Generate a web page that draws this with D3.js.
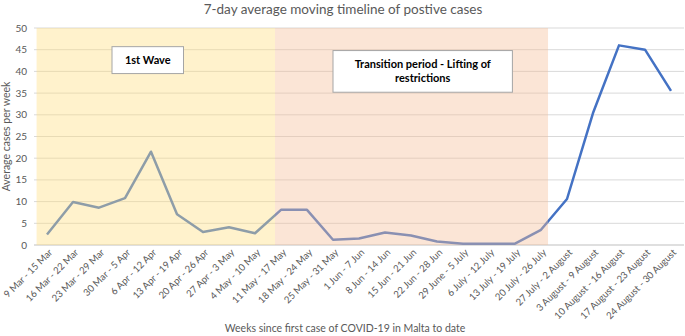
<!DOCTYPE html>
<html>
<head>
<meta charset="utf-8">
<script src="https://cdn.jsdelivr.net/npm/d3@7"></script>
<style>
  body { margin: 0; background: #fff; }
  svg text { font-family: Lato, "Open Sans", sans-serif; }
</style>
</head>
<body>
<div id="container"></div>
<script>
let w = 685;
let h = 336;
let margin = { top: 28, right: 1, bottom: 91, left: 34 };

// weeks on the x axis
let weeks = [
  "9 Mar - 15 Mar", "16 Mar - 22 Mar", "23 Mar - 29 Mar", "30 Mar - 5 Apr",
  "6 Apr - 12 Apr", "13 Apr - 19 Apr", "20 Apr - 26 Apr", "27 Apr - 3 May",
  "4 May - 10 May", "11 May - 17 May", "18 May - 24 May", "25 May - 31 May",
  "1 Jun - 7 Jun", "8 Jun - 14 Jun", "15 Jun - 21 Jun", "22 Jun - 28 Jun",
  "29 June - 5 July", "6 July - 12 July", "13 July - 19 July", "20 July - 26 July",
  "27 July - 2 August", "3 August - 9 August", "10 August - 16 August",
  "17 August - 23 August", "24 August - 30 August"
];

// 7-day average cases per week
let avgCases = [
  2.4, 9.9, 8.6, 10.8, 21.5, 7.1, 3.0, 4.1, 2.7, 8.1, 8.1, 1.2, 1.5,
  2.9, 2.2, 0.8, 0.3, 0.3, 0.3, 3.5, 10.6, 30.4, 46.0, 45.0, 35.5
];

let yTicks = [0, 5, 10, 15, 20, 25, 30, 35, 40, 45, 50];

// shaded periods, in week index units (start, end)
let periodNames = ["1st Wave", "Transition period - Lifting of restrictions"];
let periodStart = [-0.4, 8.77];
let periodEnd = [8.77, 19.27];
let periodColors = ["#FFDE80", "#F5BE98"];

let svg = d3.select("#container")
  .append("svg")
  .attr("width", w)
  .attr("height", h)
  .style("background-color", "#fff");

let xScale = d3.scaleBand()
  .domain(weeks)
  .range([margin.left, w - margin.right]);

let xPos = d => xScale(d) + xScale.bandwidth() / 2;
let xIdx = i => xScale(weeks[0]) + xScale.bandwidth() / 2 + i * xScale.step();

let yScale = d3.scaleLinear()
  .domain([0, 50])
  .range([h - margin.bottom, margin.top]);

// gridlines
svg.append("g")
  .selectAll("line")
  .data(yTicks)
  .join("line")
  .attr("x1", margin.left)
  .attr("x2", w - margin.right)
  .attr("y1", d => yScale(d))
  .attr("y2", d => yScale(d))
  .attr("stroke", d => d === 0 ? "#BFBFBF" : "#D9D9D9")
  .attr("stroke-width", 1);

// the line
let line = d3.line()
  .x((d, i) => xPos(weeks[i]))
  .y(d => yScale(d));

svg.append("path")
  .datum(avgCases)
  .attr("fill", "none")
  .attr("stroke", "#4472C4")
  .attr("stroke-width", 2.5)
  .attr("stroke-linejoin", "round")
  .attr("d", line);

// semi-transparent period shapes sit over the line
svg.append("g")
  .selectAll("rect")
  .data(periodNames)
  .join("rect")
  .attr("x", (d, i) => xIdx(periodStart[i]))
  .attr("width", (d, i) => xIdx(periodEnd[i]) - xIdx(periodStart[i]))
  .attr("y", yScale(50))
  .attr("height", yScale(0) - yScale(50))
  .attr("fill", (d, i) => periodColors[i])
  .attr("fill-opacity", 0.4);

// y axis labels
svg.append("g")
  .selectAll("text")
  .data(yTicks)
  .join("text")
  .attr("x", 27)
  .attr("y", d => yScale(d))
  .attr("dy", "0.35em")
  .attr("text-anchor", "end")
  .attr("fill", "#595959")
  .style("font-size", "10px")
  .text(d => d);

// x axis labels, rotated
svg.append("g")
  .selectAll("text")
  .data(weeks)
  .join("text")
  .attr("text-anchor", "end")
  .attr("transform", d => "translate(" + (xPos(d) + 6) + "," + (yScale(0) + 8) + ") rotate(-45)")
  .attr("fill", "#595959")
  .style("font-size", "9.6px")
  .text(d => d);

// title
svg.append("text")
  .attr("x", 343)
  .attr("y", 14)
  .attr("text-anchor", "middle")
  .attr("fill", "#595959")
  .style("font-size", "13.5px")
  .text("7-day average moving timeline of postive cases");

// axis titles
svg.append("text")
  .attr("transform", "translate(10," + yScale(25) + ") rotate(-90)")
  .attr("text-anchor", "middle")
  .attr("fill", "#595959")
  .style("font-size", "10.5px")
  .text("Average cases per week");

svg.append("text")
  .attr("x", 345)
  .attr("y", 332)
  .attr("text-anchor", "middle")
  .attr("fill", "#595959")
  .style("font-size", "10.5px")
  .text("Weeks since first case of COVID-19 in Malta to date");

// annotation boxes
let boxes = [
  { x0: 2.5, x1: 5.25, v0: 45.7, v1: 39.5, lines: ["1st Wave"] },
  { x0: 11.0, x1: 17.9, v0: 44.8, v1: 35.2, lines: ["Transition period - Lifting of", "restrictions"] }
];

boxes.forEach(function (b) {
  let bx = xIdx(b.x0);
  let bw = xIdx(b.x1) - bx;
  let by = yScale(b.v0);
  let bh = yScale(b.v1) - by;
  svg.append("rect")
    .attr("x", bx)
    .attr("y", by)
    .attr("width", bw)
    .attr("height", bh)
    .attr("fill", "#fff")
    .attr("stroke", "#A5A5A5")
    .attr("stroke-width", 1);
  let t = svg.append("text")
    .attr("text-anchor", "middle")
    .attr("fill", "#000")
    .style("font-size", "11px")
    .style("font-weight", "bold");
  let lh = 14;
  let startY = by + bh / 2 - (b.lines.length - 1) * lh / 2;
  b.lines.forEach(function (l, i) {
    t.append("tspan")
      .attr("x", bx + bw / 2)
      .attr("y", startY + i * lh)
      .attr("dy", "0.35em")
      .text(l);
  });
});
</script>
</body>
</html>
